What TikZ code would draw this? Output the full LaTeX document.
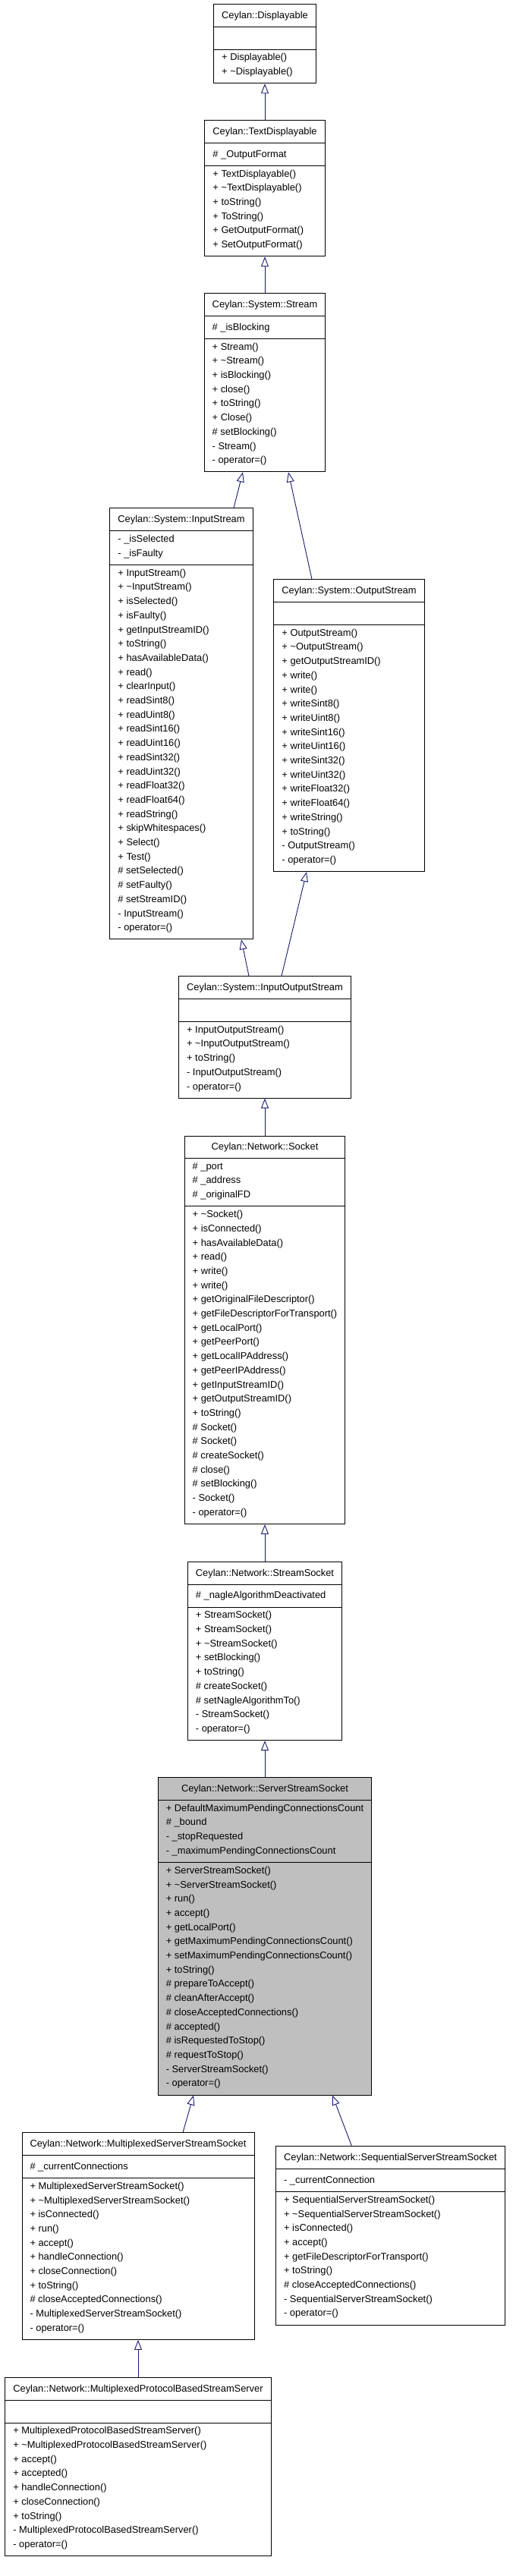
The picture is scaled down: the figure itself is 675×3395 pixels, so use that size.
\documentclass[tikz,border=0pt]{standalone}
\usepackage{fontspec}
\setmainfont{Liberation Sans}
\usepackage{xcolor}
\usetikzlibrary{shapes.multipart, positioning, arrows.meta}

\definecolor{navyline}{RGB}{25,25,112}
\newcommand{\classfont}{\fontsize{12.85}{18.7}\selectfont\strut}

\begin{document}
\begin{tikzpicture}[x=1pt, y=1pt, node distance=48pt,
    classbox/.style={draw, line width=0.9pt, rectangle split, rectangle split parts=3,
      rectangle split part align={center,left,left}, align=left, font=\classfont,
      inner xsep=10.5pt, inner ysep=5.1pt},
    focusbox/.style={classbox, fill=black!25},
    inherit/.style={draw=navyline, line width=0.9pt, -{Triangle[open, length=13pt, width=10pt]}}]

    \useasboundingbox (0,0) rectangle (675,-3395);

    % Définition des classes
    \node[classbox, anchor=north] (disp) at (349,-5) {Ceylan::Displayable
        \nodepart{two}\strut
        \nodepart{three}+ Displayable()\\+ \textasciitilde Displayable()};
    \node[classbox, below=of disp] (tdisp) {Ceylan::TextDisplayable
        \nodepart{two}\# \_OutputFormat
        \nodepart{three}+ TextDisplayable()\\+ \textasciitilde TextDisplayable()\\+ toString()\\+ ToString()\\+ GetOutputFormat()\\+ SetOutputFormat()};
    \node[classbox, below=of tdisp] (stream) {Ceylan::System::Stream
        \nodepart{two}\# \_isBlocking
        \nodepart{three}+ Stream()\\+ \textasciitilde Stream()\\+ isBlocking()\\+ close()\\+ toString()\\+ Close()\\\# setBlocking()\\- Stream()\\- operator=()};
    \node[classbox, below=47pt of stream, xshift=-110pt] (istream) {Ceylan::System::InputStream
        \nodepart{two}- \_isSelected\\- \_isFaulty
        \nodepart{three}+ InputStream()\\+ \textasciitilde InputStream()\\+ isSelected()\\+ isFaulty()\\+ getInputStreamID()\\+ toString()\\+ hasAvailableData()\\+ read()\\+ clearInput()\\+ readSint8()\\+ readUint8()\\+ readSint16()\\+ readUint16()\\+ readSint32()\\+ readUint32()\\+ readFloat32()\\+ readFloat64()\\+ readString()\\+ skipWhitespaces()\\+ Select()\\+ Test()\\\# setSelected()\\\# setFaulty()\\\# setStreamID()\\- InputStream()\\- operator=()};
    \node[classbox, below=141pt of stream, xshift=111pt] (ostream) {Ceylan::System::OutputStream
        \nodepart{two}\strut
        \nodepart{three}+ OutputStream()\\+ \textasciitilde OutputStream()\\+ getOutputStreamID()\\+ write()\\+ write()\\+ writeSint8()\\+ writeUint8()\\+ writeSint16()\\+ writeUint16()\\+ writeSint32()\\+ writeUint32()\\+ writeFloat32()\\+ writeFloat64()\\+ writeString()\\+ toString()\\- OutputStream()\\- operator=()};
    \node[classbox, below=of istream, xshift=110pt] (iostream) {Ceylan::System::InputOutputStream
        \nodepart{two}\strut
        \nodepart{three}+ InputOutputStream()\\+ \textasciitilde InputOutputStream()\\+ toString()\\- InputOutputStream()\\- operator=()};
    \node[classbox, below=49pt of iostream] (socket) {Ceylan::Network::Socket
        \nodepart{two}\# \_port\\\# \_address\\\# \_originalFD
        \nodepart{three}+ \textasciitilde Socket()\\+ isConnected()\\+ hasAvailableData()\\+ read()\\+ write()\\+ write()\\+ getOriginalFileDescriptor()\\+ getFileDescriptorForTransport()\\+ getLocalPort()\\+ getPeerPort()\\+ getLocalIPAddress()\\+ getPeerIPAddress()\\+ getInputStreamID()\\+ getOutputStreamID()\\+ toString()\\\# Socket()\\\# Socket()\\\# createSocket()\\\# close()\\\# setBlocking()\\- Socket()\\- operator=()};
    \node[classbox, below=49pt of socket] (ssocket) {Ceylan::Network::StreamSocket
        \nodepart{two}\# \_nagleAlgorithmDeactivated
        \nodepart{three}+ StreamSocket()\\+ StreamSocket()\\+ \textasciitilde StreamSocket()\\+ setBlocking()\\+ toString()\\\# createSocket()\\\# setNagleAlgorithmTo()\\- StreamSocket()\\- operator=()};
    \node[focusbox, below=of ssocket] (server) {Ceylan::Network::ServerStreamSocket
        \nodepart{two}+ DefaultMaximumPendingConnectionsCount\\\# \_bound\\- \_stopRequested\\- \_maximumPendingConnectionsCount
        \nodepart{three}+ ServerStreamSocket()\\+ \textasciitilde ServerStreamSocket()\\+ run()\\+ accept()\\+ getLocalPort()\\+ getMaximumPendingConnectionsCount()\\+ setMaximumPendingConnectionsCount()\\+ toString()\\\# prepareToAccept()\\\# cleanAfterAccept()\\\# closeAcceptedConnections()\\\# accepted()\\\# isRequestedToStop()\\\# requestToStop()\\- ServerStreamSocket()\\- operator=()};
    \node[classbox, below=49pt of server, xshift=-167pt] (mserver) {Ceylan::Network::MultiplexedServerStreamSocket
        \nodepart{two}\# \_currentConnections
        \nodepart{three}+ MultiplexedServerStreamSocket()\\+ \textasciitilde MultiplexedServerStreamSocket()\\+ isConnected()\\+ run()\\+ accept()\\+ handleConnection()\\+ closeConnection()\\+ toString()\\\# closeAcceptedConnections()\\- MultiplexedServerStreamSocket()\\- operator=()};
    \node[classbox, below=67pt of server, xshift=165.5pt] (sserver) {Ceylan::Network::SequentialServerStreamSocket
        \nodepart{two}- \_currentConnection
        \nodepart{three}+ SequentialServerStreamSocket()\\+ \textasciitilde SequentialServerStreamSocket()\\+ isConnected()\\+ accept()\\+ getFileDescriptorForTransport()\\+ toString()\\\# closeAcceptedConnections()\\- SequentialServerStreamSocket()\\- operator=()};
    \node[classbox, below=49pt of mserver] (mpserver) {Ceylan::Network::MultiplexedProtocolBasedStreamServer
        \nodepart{two}\strut
        \nodepart{three}+ MultiplexedProtocolBasedStreamServer()\\+ \textasciitilde MultiplexedProtocolBasedStreamServer()\\+ accept()\\+ accepted()\\+ handleConnection()\\+ closeConnection()\\+ toString()\\- MultiplexedProtocolBasedStreamServer()\\- operator=()};

    % Définition des héritages
    \draw[inherit] (tdisp.north) -- (disp.south);
    \draw[inherit] (stream.north) -- (tdisp.south);
    \draw[inherit] ([xshift=69pt]istream.north) -- ([xshift=-29pt]stream.south);
    \draw[inherit] ([xshift=-49pt]ostream.north) -- ([xshift=31pt]stream.south);
    \draw[inherit] ([xshift=-21pt]iostream.north) -- ([xshift=79pt]istream.south);
    \draw[inherit] ([xshift=22pt]iostream.north) -- ([xshift=-56pt]ostream.south);
    \draw[inherit] (socket.north) -- (iostream.south);
    \draw[inherit] (ssocket.north) -- (socket.south);
    \draw[inherit] (server.north) -- (ssocket.south);
    \draw[inherit] ([xshift=59pt]mserver.north) -- ([xshift=-94pt]server.south);
    \draw[inherit] ([xshift=-51pt]sserver.north) -- ([xshift=89pt]server.south);
    \draw[inherit] (mpserver.north) -- (mserver.south);

\end{tikzpicture}
\end{document}
